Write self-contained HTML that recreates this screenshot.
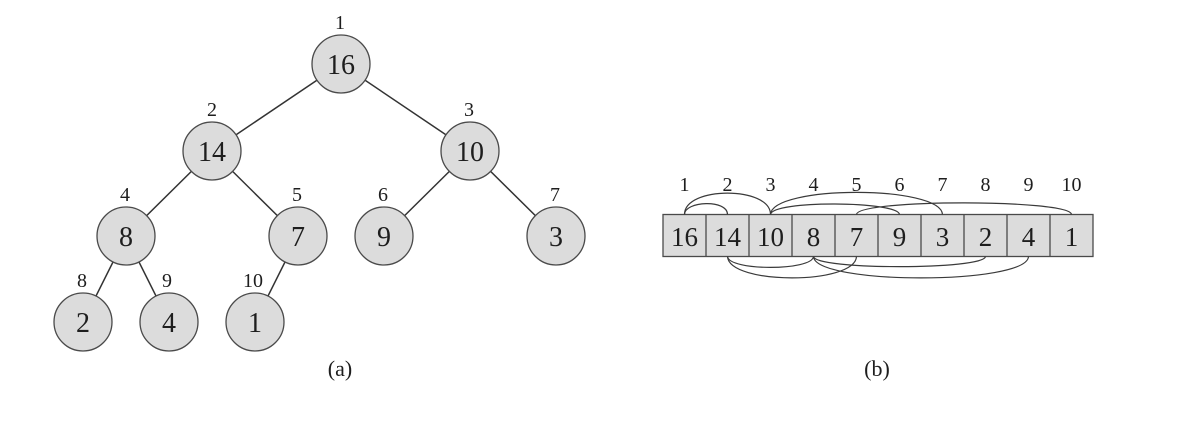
<!DOCTYPE html>
<html>
<head>
<meta charset="utf-8">
<style>
html,body{margin:0;padding:0;background:#fff;}
svg{display:block;}
text{font-family:"Liberation Serif","DejaVu Serif",serif;fill:#1e1e1e;}
</style>
</head>
<body>
<svg width="1180" height="424" viewBox="0 0 1180 424" xmlns="http://www.w3.org/2000/svg">
<rect width="1180" height="424" fill="#fff"/>
<!-- Tree edges -->
<g stroke="#333" stroke-width="1.5">
<line x1="341" y1="64" x2="212" y2="151"/>
<line x1="341" y1="64" x2="470" y2="151"/>
<line x1="212" y1="151" x2="126" y2="236"/>
<line x1="212" y1="151" x2="298" y2="236"/>
<line x1="470" y1="151" x2="384" y2="236"/>
<line x1="470" y1="151" x2="556" y2="236"/>
<line x1="126" y1="236" x2="83" y2="322"/>
<line x1="126" y1="236" x2="169" y2="322"/>
<line x1="298" y1="236" x2="255" y2="322"/>
</g>
<!-- Tree nodes -->
<g fill="#dcdcdc" stroke="#4a4a4a" stroke-width="1.3">
<circle cx="341" cy="64" r="29"/>
<circle cx="212" cy="151" r="29"/>
<circle cx="470" cy="151" r="29"/>
<circle cx="126" cy="236" r="29"/>
<circle cx="298" cy="236" r="29"/>
<circle cx="384" cy="236" r="29"/>
<circle cx="556" cy="236" r="29"/>
<circle cx="83" cy="322" r="29"/>
<circle cx="169" cy="322" r="29"/>
<circle cx="255" cy="322" r="29"/>
</g>
<g font-size="28" text-anchor="middle">
<text x="341" y="74">16</text>
<text x="212" y="161">14</text>
<text x="470" y="161">10</text>
<text x="126" y="246">8</text>
<text x="298" y="246">7</text>
<text x="384" y="246">9</text>
<text x="556" y="246">3</text>
<text x="83" y="332">2</text>
<text x="169" y="332">4</text>
<text x="255" y="332">1</text>
</g>
<g font-size="20" text-anchor="middle">
<text x="340" y="29">1</text>
<text x="212" y="116">2</text>
<text x="469" y="116">3</text>
<text x="125" y="201">4</text>
<text x="297" y="201">5</text>
<text x="383" y="201">6</text>
<text x="555" y="201">7</text>
<text x="82" y="287">8</text>
<text x="167" y="287">9</text>
<text x="253" y="287">10</text>
</g>
<text x="340" y="376" font-size="22" text-anchor="middle">(a)</text>

<!-- Array -->
<rect x="663" y="214.5" width="430" height="42" fill="#dcdcdc" stroke="#4a4a4a" stroke-width="1.3"/>
<g stroke="#4a4a4a" stroke-width="1.3">
<line x1="706" y1="214.5" x2="706" y2="256.5"/>
<line x1="749" y1="214.5" x2="749" y2="256.5"/>
<line x1="792" y1="214.5" x2="792" y2="256.5"/>
<line x1="835" y1="214.5" x2="835" y2="256.5"/>
<line x1="878" y1="214.5" x2="878" y2="256.5"/>
<line x1="921" y1="214.5" x2="921" y2="256.5"/>
<line x1="964" y1="214.5" x2="964" y2="256.5"/>
<line x1="1007" y1="214.5" x2="1007" y2="256.5"/>
<line x1="1050" y1="214.5" x2="1050" y2="256.5"/>
</g>
<g font-size="27" text-anchor="middle">
<text x="684.5" y="246">16</text>
<text x="727.5" y="246">14</text>
<text x="770.5" y="246">10</text>
<text x="813.5" y="246">8</text>
<text x="856.5" y="246">7</text>
<text x="899.5" y="246">9</text>
<text x="942.5" y="246">3</text>
<text x="985.5" y="246">2</text>
<text x="1028.5" y="246">4</text>
<text x="1071.5" y="246">1</text>
</g>
<g font-size="20" text-anchor="middle">
<text x="684.5" y="191">1</text>
<text x="727.5" y="191">2</text>
<text x="770.5" y="191">3</text>
<text x="813.5" y="191">4</text>
<text x="856.5" y="191">5</text>
<text x="899.5" y="191">6</text>
<text x="942.5" y="191">7</text>
<text x="985.5" y="191">8</text>
<text x="1028.5" y="191">9</text>
<text x="1071.5" y="191">10</text>
</g>
<g fill="none" stroke="#3a3a3a" stroke-width="1.2">
<path d="M684.5,214.5 C684.5,201 727.5,199 727.5,214.5"/>
<path d="M684.5,214.5 C684.5,186 770.5,186 770.5,214.5"/>
<path d="M770.5,214.5 C772,200 898,201 899.5,214.5"/>
<path d="M770.5,214.5 C772,185 941,185 942.5,214.5"/>
<path d="M856.5,214.5 C858,199 1070,199 1071.5,214.5"/>
<path d="M727.5,256.5 C729,271 812,271 813.5,256.5"/>
<path d="M727.5,256.5 C729,285 855,285 856.5,256.5"/>
<path d="M813.5,256.5 C815,270 984,270 985.5,256.5"/>
<path d="M813.5,256.5 C815,285 1027,285 1028.5,256.5"/>
</g>
<text x="877" y="376" font-size="22" text-anchor="middle">(b)</text>
</svg>
</body>
</html>
